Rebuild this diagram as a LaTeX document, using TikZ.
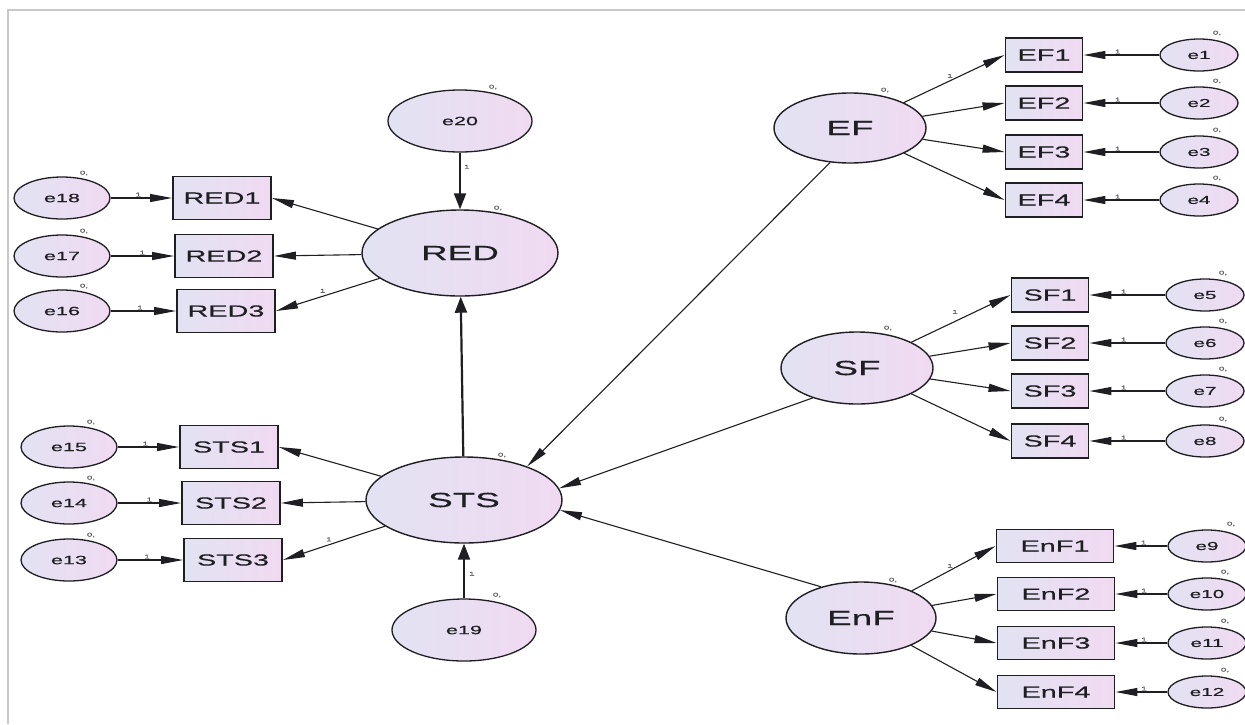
\documentclass[tikz,border=0pt]{standalone}
\usepackage{fontspec}
\setmainfont{Liberation Sans}[FakeStretch=1.8,FakeBold=0.4]
\usetikzlibrary{arrows.meta,shapes.geometric,calc}
\definecolor{lavL}{RGB}{226,226,242}
\definecolor{lavR}{RGB}{240,218,242}
\definecolor{ink}{RGB}{30,30,35}
\definecolor{framec}{RGB}{200,200,200}
\begin{document}
\begin{tikzpicture}[x=1pt,y=-1pt,
  lat/.style={ellipse,draw=ink,line width=1.4pt,left color=lavL,right color=lavR,inner sep=0pt,font=\fontsize{20.5}{22}\selectfont,text=ink},
  bigerr/.style={ellipse,draw=ink,line width=1.3pt,left color=lavL,right color=lavR,inner sep=0pt,minimum width=144pt,minimum height=62pt,font=\fontsize{12}{13}\selectfont,text=ink},
  lerr/.style={ellipse,draw=ink,line width=1.3pt,left color=lavL,right color=lavR,inner sep=0pt,minimum width=96pt,minimum height=42pt,font=\fontsize{12}{13}\selectfont,text=ink},
  rerr/.style={ellipse,draw=ink,line width=1.3pt,left color=lavL,right color=lavR,inner sep=0pt,minimum width=78pt,minimum height=32pt,font=\fontsize{11.5}{12}\selectfont,text=ink},
  obs/.style={rectangle,draw=ink,line width=1.9pt,left color=lavL,right color=lavR,inner sep=0pt,font=\fontsize{16}{17}\selectfont,text=ink},
  lbox/.style={obs,minimum width=98pt,minimum height=43pt},
  efbox/.style={obs,minimum width=77pt,minimum height=34pt},
  enbox/.style={obs,minimum width=117pt,minimum height=33pt},
  lnk/.style={line width=1.1pt,draw=ink,-{Triangle[length=22pt,width=8pt]}},
  thk/.style={line width=2.2pt,draw=ink,-{Triangle[length=16pt,width=12pt]}},
  zlab/.style={font=\fontsize{5.5}{5.5}\selectfont,text=ink!75,inner sep=0pt}
]
\useasboundingbox (0,0) rectangle (1245,724);
\draw[framec,line width=1.5pt] (8,724) -- (8,10) -- (1245,10);

% central structure
\node[bigerr] (e20) at (460,121) {e20};
\node[lat,minimum width=196pt,minimum height=86pt] (RED) at (460,253) {RED};
\node[lat,minimum width=196pt,minimum height=86pt] (STS) at (464,500) {STS};
\node[bigerr] (e19) at (464,630) {e19};

% left RED group
\node[lerr] (e18) at (62,198) {e18};
\node[lerr] (e17) at (62,256) {e17};
\node[lerr] (e16) at (62,311) {e16};
\node[lbox] (RED1) at (222,198) {RED1};
\node[lbox] (RED2) at (224,256) {RED2};
\node[lbox] (RED3) at (226,311) {RED3};

% left STS group
\node[lerr] (e15) at (69,447) {e15};
\node[lerr] (e14) at (69,503) {e14};
\node[lerr] (e13) at (69,560) {e13};
\node[lbox] (STS1) at (229,447) {STS1};
\node[lbox] (STS2) at (231,503) {STS2};
\node[lbox] (STS3) at (233,560) {STS3};

% EF group
\node[lat,minimum width=152pt,minimum height=70pt] (EF) at (850,128) {EF};
\node[efbox] (EF1) at (1044,55) {EF1};
\node[efbox] (EF2) at (1044,103) {EF2};
\node[efbox] (EF3) at (1044,152) {EF3};
\node[efbox] (EF4) at (1044,200) {EF4};
\node[rerr] (e1) at (1199,55) {e1};
\node[rerr] (e2) at (1199,103) {e2};
\node[rerr] (e3) at (1199,152) {e3};
\node[rerr] (e4) at (1199,200) {e4};

% SF group
\node[lat,minimum width=152pt,minimum height=72pt] (SF) at (857,368) {SF};
\node[efbox] (SF1) at (1050,295) {SF1};
\node[efbox] (SF2) at (1050,343) {SF2};
\node[efbox] (SF3) at (1050,391) {SF3};
\node[efbox] (SF4) at (1050,441) {SF4};
\node[rerr] (e5) at (1205,295) {e5};
\node[rerr] (e6) at (1205,343) {e6};
\node[rerr] (e7) at (1205,391) {e7};
\node[rerr] (e8) at (1205,441) {e8};

% EnF group
\node[lat,minimum width=150pt,minimum height=72pt] (EnF) at (861,618) {EnF};
\node[enbox] (EnF1) at (1055,546) {EnF1};
\node[enbox] (EnF2) at (1056,594) {EnF2};
\node[enbox] (EnF3) at (1056,643) {EnF3};
\node[enbox] (EnF4) at (1056,692) {EnF4};
\node[rerr] (e9) at (1207,546) {e9};
\node[rerr] (e10) at (1207,594) {e10};
\node[rerr] (e11) at (1207,643) {e11};
\node[rerr] (e12) at (1207,692) {e12};

% structural paths
\draw[thk] (e20) -- node[zlab,pos=0.25,right=3pt]{1} (RED);
\draw[thk] (e19) -- node[zlab,pos=0.45,right=4pt]{1} (STS);
\draw[thk] (STS) -- (RED);
\draw[lnk] (EF.240) -- (STS.28);
\draw[lnk] (SF.214) -- (STS.7);
\draw[lnk] (EnF.142) -- (STS.354);

% loadings
\draw[lnk] (RED) -- (RED1.east);
\draw[lnk] (RED) -- (RED2.east);
\draw[lnk] (RED) -- node[zlab,pos=0.55,above=3pt]{1} (RED3.east);
\draw[lnk] (STS) -- (STS1.east);
\draw[lnk] (STS) -- (STS2.east);
\draw[lnk] (STS) -- node[zlab,pos=0.55,above=3pt]{1} (STS3.east);
\foreach \i in {1,...,4}{\draw[lnk] (EF) -- (EF\i.west); \draw[lnk] (SF) -- (SF\i.west); \draw[lnk] (EnF) -- (EnF\i.west);}
\node[zlab] at (950,76) {1};
\node[zlab] at (955,312) {1};
\node[zlab] at (950,566) {1};

% error paths
\draw[lnk] (e18) -- node[zlab,pos=0.45,above=1pt]{1} (RED1);
\draw[lnk] (e17) -- node[zlab,pos=0.5,above=1pt]{1} (RED2);
\draw[lnk] (e16) -- node[zlab,pos=0.45,above=1pt]{1} (RED3);
\draw[lnk] (e15) -- node[zlab,pos=0.45,above=1pt]{1} (STS1);
\draw[lnk] (e14) -- node[zlab,pos=0.5,above=1pt]{1} (STS2);
\draw[lnk] (e13) -- node[zlab,pos=0.45,above=1pt]{1} (STS3);
\draw[lnk] (e1) -- node[zlab,pos=0.55,above=1pt]{1} (EF1);
\draw[lnk] (e2) -- node[zlab,pos=0.55,above=1pt]{1} (EF2);
\draw[lnk] (e3) -- node[zlab,pos=0.55,above=1pt]{1} (EF3);
\draw[lnk] (e4) -- node[zlab,pos=0.55,above=1pt]{1} (EF4);
\draw[lnk] (e5) -- node[zlab,pos=0.55,above=1pt]{1} (SF1);
\draw[lnk] (e6) -- node[zlab,pos=0.55,above=1pt]{1} (SF2);
\draw[lnk] (e7) -- node[zlab,pos=0.55,above=1pt]{1} (SF3);
\draw[lnk] (e8) -- node[zlab,pos=0.55,above=1pt]{1} (SF4);
\draw[lnk] (e9) -- node[zlab,pos=0.45,above=1pt]{1} (EnF1);
\draw[lnk] (e10) -- node[zlab,pos=0.45,above=1pt]{1} (EnF2);
\draw[lnk] (e11) -- node[zlab,pos=0.45,above=1pt]{1} (EnF3);
\draw[lnk] (e12) -- node[zlab,pos=0.45,above=1pt]{1} (EnF4);

% variance labels
\node[zlab] at ($(RED)+(38,-45)$) {0,};
\node[zlab] at ($(STS)+(38,-45)$) {0,};
\node[zlab] at ($(EF)+(35,-38)$) {0,};
\node[zlab] at ($(SF)+(31,-40)$) {0,};
\node[zlab] at ($(EnF)+(32,-38)$) {0,};
\node[zlab] at ($(e20)+(33,-34)$) {0,};
\node[zlab] at ($(e19)+(33,-35)$) {0,};
\foreach \n in {e18,e17,e16,e15,e14,e13}{\node[zlab] at ($(\n)+(22,-25)$) {0,};}
\foreach \n in {e1,e2,e3,e4,e5,e6,e7,e8,e10,e11,e12}{\node[zlab] at ($(\n)+(18,-22)$) {0,};}
\node[zlab] at ($(e9)+(24,-22)$) {0,};
\end{tikzpicture}
\end{document}
